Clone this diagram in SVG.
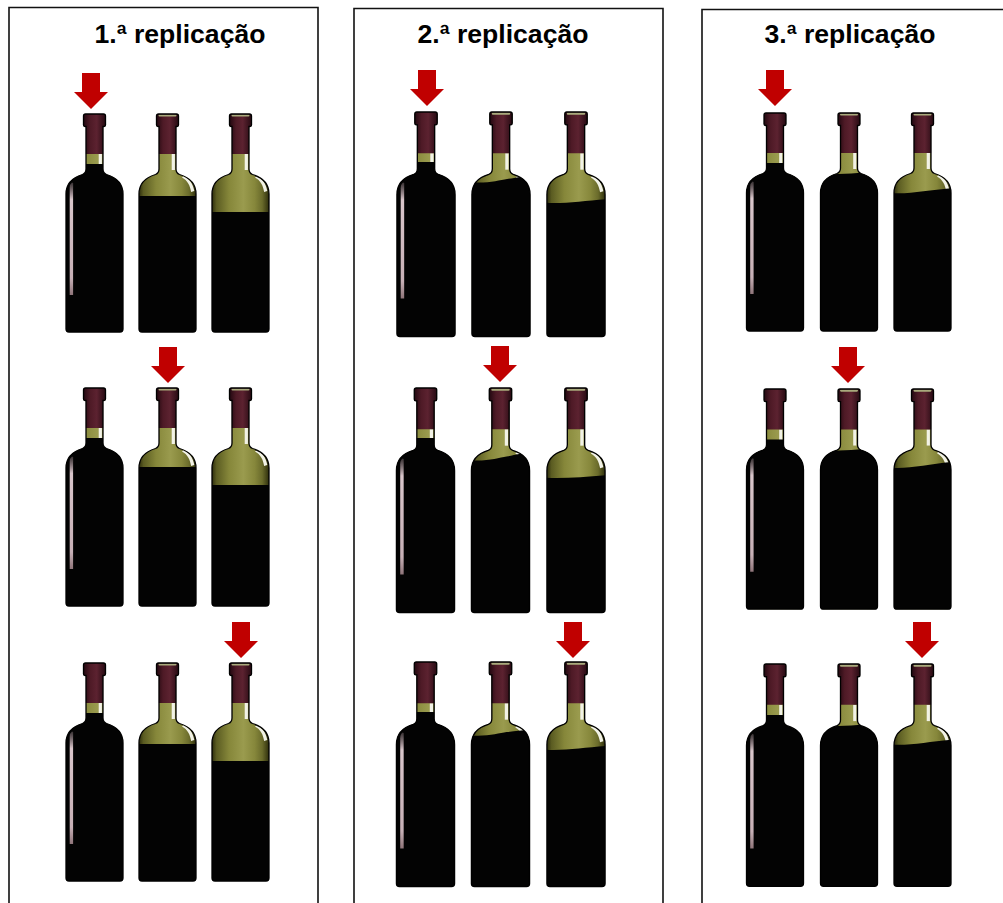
<svg xmlns="http://www.w3.org/2000/svg" xmlns:xlink="http://www.w3.org/1999/xlink" width="1003" height="903" viewBox="0 0 1003 903">
  <style>
    .frame { fill: none; stroke: #111; stroke-width: 1.6; }
    .title { font-family: "Liberation Sans", Arial, sans-serif; font-weight: bold; font-size: 26px; fill: #000; text-anchor: middle; }
    .glass { fill: url(#glassGrad); }
    .edge { fill: none; stroke: #000; stroke-width: 1.3; }
    .wine { fill: #030303; }
    .arrow { fill: #c00000; }
  </style>
  <defs>
    <linearGradient id="glassGrad" x1="0" y1="0" x2="1" y2="0">
      <stop offset="0" stop-color="#2e2e0c"/>
      <stop offset="0.08" stop-color="#5b5c22"/>
      <stop offset="0.3" stop-color="#86873a"/>
      <stop offset="0.55" stop-color="#9a9b4e"/>
      <stop offset="0.75" stop-color="#86873b"/>
      <stop offset="0.88" stop-color="#6a6b2b"/>
      <stop offset="1" stop-color="#2e2e0c"/>
    </linearGradient>
    <linearGradient id="capGrad" x1="0" y1="0" x2="1" y2="0">
      <stop offset="0" stop-color="#220810"/>
      <stop offset="0.3" stop-color="#4e1a26"/>
      <stop offset="0.6" stop-color="#5c2230"/>
      <stop offset="1" stop-color="#260a12"/>
    </linearGradient>
    <linearGradient id="stripeGrad" x1="0" y1="0" x2="0" y2="1">
      <stop offset="0" stop-color="#b8a0a6" stop-opacity="0.3"/>
      <stop offset="0.15" stop-color="#d9c6cb"/>
      <stop offset="0.85" stop-color="#c7b0b6"/>
      <stop offset="1" stop-color="#8e7479"/>
    </linearGradient>

    <!-- bottle silhouette, origin at top centre of the cap -->
    <path id="shape" d="M-11,2 Q-11,0 -9,0 H9 Q11,0 11,2 V11 Q11,12.5 9.5,12.5 H8.5 V55 C8.5,58 9.5,59.5 12,60.5 C22,63.5 28.5,69.5 28.5,80 V215 Q28.5,218 25.5,218 H-25.5 Q-28.5,218 -28.5,215 V80 C-28.5,69.5 -22,63.5 -12,60.5 C-9.5,59.5 -8.5,58 -8.5,55 V12.5 H-9.5 Q-11,12.5 -11,11 Z"/>
    <clipPath id="clip"><use href="#shape"/></clipPath>

    <!-- foil capsule -->
    <path id="cap" fill="url(#capGrad)" d="M-11,2 Q-11,0 -9,0 H9 Q11,0 11,2 V11 Q11,12.5 9.5,12.5 H8.6 V40 H-8.6 V12.5 H-9.5 Q-11,12.5 -11,11 Z"/>

    <!-- glass reflections -->
    <g id="spec" fill="#f2f2e6">
      <rect x="4.2" y="40" width="3.2" height="16"/>
      <path d="M16,62 C21.5,64.5 25.5,69 26.8,77 L23.6,78 C22.6,71.5 20,66.5 14.5,63.5 Z"/>
    </g>

    <!-- side highlight of the full bottle -->
    <path id="stripe" fill="url(#stripeGrad)" d="M-24.8,74 Q-24.8,70 -22.5,68.5 L-21.4,69 V181 H-24.8 Z"/>

    <rect id="rim" x="-9" y="0.6" width="18" height="2" rx="1" fill="#a9aa7c"/>
  </defs>

  <rect width="1003" height="903" fill="#fff"/>

  <!-- panel frames (open at the bottom) -->
  <g id="frames">
    <path class="frame" d="M9,910 V7.5 H318 V910"/>
    <path class="frame" d="M354,910 V8.5 H663 V910"/>
    <path class="frame" d="M702,910 V9.5 H1012"/>
  </g>

  <g id="titles">
    <text class="title" x="180" y="43" textLength="171" lengthAdjust="spacingAndGlyphs">1.ª replicação</text>
    <text class="title" x="503" y="43" textLength="171" lengthAdjust="spacingAndGlyphs">2.ª replicação</text>
    <text class="title" x="850" y="43" textLength="171" lengthAdjust="spacingAndGlyphs">3.ª replicação</text>
  </g>

  <!-- ===== 1.ª replicação ===== -->
  <g id="rep1">
    <g id="rep1-row1-b1" transform="translate(94.5,114)">
      <use href="#shape" class="glass"/><use href="#spec"/>
      <path class="wine" clip-path="url(#clip)" d="M-32,50 H32 V225 H-32 Z"/>
      <use href="#stripe"/><use href="#cap"/><use href="#shape" class="edge"/>
    </g>
    <g id="rep1-row1-b2" transform="translate(167.5,114)">
      <use href="#shape" class="glass"/><use href="#spec"/>
      <path class="wine" clip-path="url(#clip)" d="M-32,82 H32 V225 H-32 Z"/>
      <use href="#cap"/><use href="#rim"/><use href="#shape" class="edge"/>
    </g>
    <g id="rep1-row1-b3" transform="translate(240.5,114)">
      <use href="#shape" class="glass"/><use href="#spec"/>
      <path class="wine" clip-path="url(#clip)" d="M-32,98 H32 V225 H-32 Z"/>
      <use href="#cap"/><use href="#rim"/><use href="#shape" class="edge"/>
    </g>

    <g id="rep1-row2-b1" transform="translate(94.5,388)">
      <use href="#shape" class="glass"/><use href="#spec"/>
      <path class="wine" clip-path="url(#clip)" d="M-32,50 H32 V225 H-32 Z"/>
      <use href="#stripe"/><use href="#cap"/><use href="#shape" class="edge"/>
    </g>
    <g id="rep1-row2-b2" transform="translate(167.5,388)">
      <use href="#shape" class="glass"/><use href="#spec"/>
      <path class="wine" clip-path="url(#clip)" d="M-32,79 H32 V225 H-32 Z"/>
      <use href="#cap"/><use href="#rim"/><use href="#shape" class="edge"/>
    </g>
    <g id="rep1-row2-b3" transform="translate(240.5,388)">
      <use href="#shape" class="glass"/><use href="#spec"/>
      <path class="wine" clip-path="url(#clip)" d="M-32,97 H32 V225 H-32 Z"/>
      <use href="#cap"/><use href="#rim"/><use href="#shape" class="edge"/>
    </g>

    <g id="rep1-row3-b1" transform="translate(94.5,663)">
      <use href="#shape" class="glass"/><use href="#spec"/>
      <path class="wine" clip-path="url(#clip)" d="M-32,50 H32 V225 H-32 Z"/>
      <use href="#stripe"/><use href="#cap"/><use href="#shape" class="edge"/>
    </g>
    <g id="rep1-row3-b2" transform="translate(167.5,663)">
      <use href="#shape" class="glass"/><use href="#spec"/>
      <path class="wine" clip-path="url(#clip)" d="M-32,81 H32 V225 H-32 Z"/>
      <use href="#cap"/><use href="#rim"/><use href="#shape" class="edge"/>
    </g>
    <g id="rep1-row3-b3" transform="translate(240.5,663)">
      <use href="#shape" class="glass"/><use href="#spec"/>
      <path class="wine" clip-path="url(#clip)" d="M-32,98 H32 V225 H-32 Z"/>
      <use href="#cap"/><use href="#rim"/><use href="#shape" class="edge"/>
    </g>
  </g>

  <!-- ===== 2.ª replicação ===== -->
  <g id="rep2">
    <g id="rep2-row1-b1" transform="translate(426,112) scale(1.02,1.03)">
      <use href="#shape" class="glass"/><use href="#spec"/>
      <path class="wine" clip-path="url(#clip)" d="M-32,48.5 H32 V225 H-32 Z"/>
      <use href="#stripe"/><use href="#cap"/><use href="#shape" class="edge"/>
    </g>
    <g id="rep2-row1-b2" transform="translate(501,112) scale(1.02,1.03)">
      <use href="#shape" class="glass"/><use href="#spec"/>
      <path class="wine" clip-path="url(#clip)" d="M-32,68 C-14,70 -2,66 6,65 C16,64 22,61.5 32,62 V225 H-32 Z"/>
      <use href="#cap"/><use href="#rim"/><use href="#shape" class="edge"/>
    </g>
    <g id="rep2-row1-b3" transform="translate(576,112) scale(1.02,1.03)">
      <use href="#shape" class="glass"/><use href="#spec"/>
      <path class="wine" clip-path="url(#clip)" d="M-32,88 C-12,89.5 8,86 32,84.5 V225 H-32 Z"/>
      <use href="#cap"/><use href="#rim"/><use href="#shape" class="edge"/>
    </g>

    <g id="rep2-row2-b1" transform="translate(425.5,388) scale(1.02,1.03)">
      <use href="#shape" class="glass"/><use href="#spec"/>
      <path class="wine" clip-path="url(#clip)" d="M-32,48.5 H32 V225 H-32 Z"/>
      <use href="#stripe"/><use href="#cap"/><use href="#shape" class="edge"/>
    </g>
    <g id="rep2-row2-b2" transform="translate(500.5,388) scale(1.02,1.03)">
      <use href="#shape" class="glass"/><use href="#spec"/>
      <path class="wine" clip-path="url(#clip)" d="M-32,70 C-14,72 -2,67.5 6,66.5 C16,65 22,62.5 32,63 V225 H-32 Z"/>
      <use href="#cap"/><use href="#rim"/><use href="#shape" class="edge"/>
    </g>
    <g id="rep2-row2-b3" transform="translate(576,388) scale(1.02,1.03)">
      <use href="#shape" class="glass"/><use href="#spec"/>
      <path class="wine" clip-path="url(#clip)" d="M-32,87 C-12,88.5 8,86 32,84.5 V225 H-32 Z"/>
      <use href="#cap"/><use href="#rim"/><use href="#shape" class="edge"/>
    </g>

    <g id="rep2-row3-b1" transform="translate(425.5,662) scale(1.02,1.03)">
      <use href="#shape" class="glass"/><use href="#spec"/>
      <path class="wine" clip-path="url(#clip)" d="M-32,48.5 H32 V225 H-32 Z"/>
      <use href="#stripe"/><use href="#cap"/><use href="#shape" class="edge"/>
    </g>
    <g id="rep2-row3-b2" transform="translate(500.5,662) scale(1.02,1.03)">
      <use href="#shape" class="glass"/><use href="#spec"/>
      <path class="wine" clip-path="url(#clip)" d="M-32,71 C-14,73 -2,69 6,68 C16,67 22,65.5 32,66 V225 H-32 Z"/>
      <use href="#cap"/><use href="#rim"/><use href="#shape" class="edge"/>
    </g>
    <g id="rep2-row3-b3" transform="translate(576,662) scale(1.02,1.03)">
      <use href="#shape" class="glass"/><use href="#spec"/>
      <path class="wine" clip-path="url(#clip)" d="M-32,85 C-12,86.5 8,83 32,81.5 V225 H-32 Z"/>
      <use href="#cap"/><use href="#rim"/><use href="#shape" class="edge"/>
    </g>
  </g>

  <!-- ===== 3.ª replicação ===== -->
  <g id="rep3">
    <g id="rep3-row1-b1" transform="translate(775,113)">
      <use href="#shape" class="glass"/><use href="#spec"/>
      <path class="wine" clip-path="url(#clip)" d="M-32,50 H32 V225 H-32 Z"/>
      <use href="#stripe"/><use href="#cap"/><use href="#shape" class="edge"/>
    </g>
    <g id="rep3-row1-b2" transform="translate(849,113)">
      <use href="#shape" class="glass"/><use href="#spec"/>
      <path class="wine" clip-path="url(#clip)" d="M-32,61 C-12,62 8,59.5 32,58.5 V225 H-32 Z"/>
      <use href="#cap"/><use href="#rim"/><use href="#shape" class="edge"/>
    </g>
    <g id="rep3-row1-b3" transform="translate(922.5,113)">
      <use href="#shape" class="glass"/><use href="#spec"/>
      <path class="wine" clip-path="url(#clip)" d="M-32,80 C-12,81.5 8,76.5 32,75 V225 H-32 Z"/>
      <use href="#cap"/><use href="#rim"/><use href="#shape" class="edge"/>
    </g>

    <g id="rep3-row2-b1" transform="translate(775,389) scale(1,1.01)">
      <use href="#shape" class="glass"/><use href="#spec"/>
      <path class="wine" clip-path="url(#clip)" d="M-32,50 H32 V225 H-32 Z"/>
      <use href="#stripe"/><use href="#cap"/><use href="#shape" class="edge"/>
    </g>
    <g id="rep3-row2-b2" transform="translate(849,389) scale(1,1.01)">
      <use href="#shape" class="glass"/><use href="#spec"/>
      <path class="wine" clip-path="url(#clip)" d="M-32,61 C-12,62 8,59.5 32,58.5 V225 H-32 Z"/>
      <use href="#cap"/><use href="#rim"/><use href="#shape" class="edge"/>
    </g>
    <g id="rep3-row2-b3" transform="translate(922.5,389) scale(1,1.01)">
      <use href="#shape" class="glass"/><use href="#spec"/>
      <path class="wine" clip-path="url(#clip)" d="M-32,78 C-12,79.5 8,73.5 32,72 V225 H-32 Z"/>
      <use href="#cap"/><use href="#rim"/><use href="#shape" class="edge"/>
    </g>

    <g id="rep3-row3-b1" transform="translate(775,664) scale(1,1.02)">
      <use href="#shape" class="glass"/><use href="#spec"/>
      <path class="wine" clip-path="url(#clip)" d="M-32,50 H32 V225 H-32 Z"/>
      <use href="#stripe"/><use href="#cap"/><use href="#shape" class="edge"/>
    </g>
    <g id="rep3-row3-b2" transform="translate(849,664) scale(1,1.02)">
      <use href="#shape" class="glass"/><use href="#spec"/>
      <path class="wine" clip-path="url(#clip)" d="M-32,61 C-12,62 8,59.5 32,58.5 V225 H-32 Z"/>
      <use href="#cap"/><use href="#rim"/><use href="#shape" class="edge"/>
    </g>
    <g id="rep3-row3-b3" transform="translate(922.5,664) scale(1,1.02)">
      <use href="#shape" class="glass"/><use href="#spec"/>
      <path class="wine" clip-path="url(#clip)" d="M-32,79 C-12,80.5 8,75.5 32,74 V225 H-32 Z"/>
      <use href="#cap"/><use href="#rim"/><use href="#shape" class="edge"/>
    </g>
  </g>

  <!-- red pointers above the selected bottle of each row -->
  <g id="arrows">
    <defs>
      <path id="pointer" d="M-9,0 H9 V19 H17 L0,36 L-17,19 H-9 Z"/>
    </defs>
    <use href="#pointer" class="arrow" x="91" y="73"/>
    <use href="#pointer" class="arrow" x="168" y="347"/>
    <use href="#pointer" class="arrow" x="241" y="622"/>
    <use href="#pointer" class="arrow" x="427" y="70"/>
    <use href="#pointer" class="arrow" x="500" y="346"/>
    <use href="#pointer" class="arrow" x="573" y="622"/>
    <use href="#pointer" class="arrow" x="775" y="70"/>
    <use href="#pointer" class="arrow" x="848" y="347"/>
    <use href="#pointer" class="arrow" x="922" y="622"/>
  </g>
</svg>
